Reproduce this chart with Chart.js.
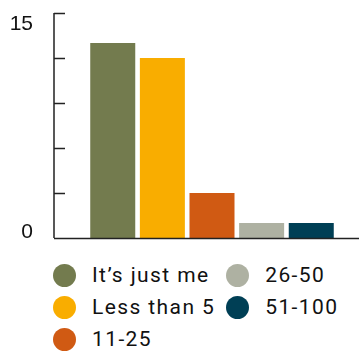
<!DOCTYPE html>
<html lang="en">
<head>
    <meta charset="UTF-8">
    <title>Team size</title>
    <script src="https://cdn.jsdelivr.net/npm/chart.js"></script>
    <style>
        body {
            margin: 0;
            font-family: Roboto, "Noto Sans", sans-serif;
            background: #fff;
        }
        .wrap {
            position: relative;
            width: 359px;
            height: 352px;
        }
        .chart-box {
            position: absolute;
            left: 0;
            top: 0;
            width: 359px;
            height: 250px;
        }
        #legend {
            position: absolute;
            left: 53px;
            top: 259px;
            display: grid;
            grid-template-rows: 32px 32px 32px;
            grid-auto-flow: column;
            column-gap: 11px;
            font-size: 21px;
            letter-spacing: 1.4px;
            color: #111;
        }
        .item {
            display: flex;
            align-items: center;
        }
        .dot {
            width: 23px;
            height: 23px;
            border-radius: 50%;
            margin-right: 16px;
            flex: none;
        }
    </style>
</head>
<body>
    <div class="wrap">
        <div class="chart-box"><canvas id="chart"></canvas></div>
        <div id="legend"></div>
    </div>
    <script>
        // data
        const categories = ['It’s just me', 'Less than 5', '11-25', '26-50', '51-100'];
        const counts = [13, 12, 3, 1, 1];
        const colors = ['#737b4e', '#f9ad00', '#d05a13', '#aeb1a2', '#003f55'];
        const tickLabels = [0, 15];

        const axisColor = '#222';

        // axis lines, inner tick stubs and the two tick labels
        const axisPlugin = {
            id: 'axisPlugin',
            afterDatasetsDraw(chart) {
                const { ctx, chartArea, scales } = chart;
                const y = scales.y;
                const axisX = chartArea.left - 11;
                ctx.save();
                ctx.strokeStyle = axisColor;
                ctx.lineWidth = 1.5;
                ctx.beginPath();
                ctx.moveTo(axisX, y.getPixelForValue(15));
                ctx.lineTo(axisX, chartArea.bottom);
                ctx.moveTo(axisX, chartArea.bottom + 0.5);
                ctx.lineTo(chartArea.right, chartArea.bottom + 0.5);
                y.ticks.forEach(t => {
                    const py = Math.round(y.getPixelForValue(t.value)) + 0.5;
                    ctx.moveTo(axisX, py);
                    ctx.lineTo(axisX + 11, py);
                });
                ctx.stroke();

                ctx.fillStyle = '#111';
                ctx.font = '21px "Liberation Sans", Arial, sans-serif';
                ctx.textAlign = 'right';
                ctx.textBaseline = 'alphabetic';
                tickLabels.forEach(v => {
                    const py = y.getPixelForValue(v);
                    const off = v === y.max ? 17 : 0;
                    ctx.fillText(String(v), axisX - 21, py + off);
                });
                ctx.restore();
            }
        };

        const chart = new Chart(document.getElementById('chart'), {
            type: 'bar',
            data: {
                labels: [''],
                datasets: categories.map((c, i) => ({
                    label: c,
                    data: [counts[i]],
                    backgroundColor: colors[i],
                    borderWidth: 0,
                    categoryPercentage: 0.844,
                    barPercentage: 0.907
                }))
            },
            options: {
                responsive: true,
                maintainAspectRatio: false,
                animation: false,
                layout: {
                    padding: { left: 65, right: 0, top: 13, bottom: 12 }
                },
                plugins: {
                    legend: { display: false },
                    tooltip: { enabled: false }
                },
                scales: {
                    x: { display: false },
                    y: {
                        display: false,
                        min: 0,
                        max: 15,
                        ticks: { stepSize: 3 }
                    }
                }
            },
            plugins: [axisPlugin]
        });

        // legend, filled column by column like the original
        const legend = document.getElementById('legend');
        categories.forEach((c, i) => {
            const item = document.createElement('div');
            item.className = 'item';
            item.innerHTML = '<span class="dot" style="background:' + colors[i] + '"></span><span>' + c + '</span>';
            legend.appendChild(item);
        });
    </script>
</body>
</html>
